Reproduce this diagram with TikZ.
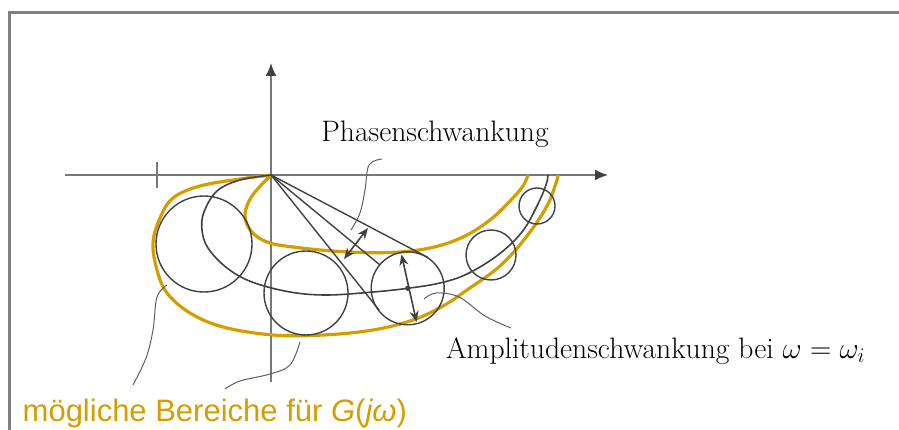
\RequirePackage{fix-cm}
\documentclass[tikz,border=0pt]{standalone}
\usepackage{fontspec}
\newfontfamily\labelsans{Liberation Sans}
\usetikzlibrary{arrows.meta}
\definecolor{gold}{RGB}{212,158,0}
\definecolor{axgray}{RGB}{120,120,120}
\definecolor{curvegray}{RGB}{65,65,65}
\definecolor{leadgray}{RGB}{95,95,95}
\tikzset{
  frameline/.style={draw={rgb,255:red,128;green,128;blue,128}, line width=3pt},
  axisline/.style={draw=axgray, line width=1.8pt},
  axisarrow/.style={axisline, -{Latex[length=13pt,width=11pt,fill=curvegray,color=curvegray]}},
  nyq/.style={draw=curvegray, line width=1.6pt},
  unc/.style={draw=curvegray, line width=1.4pt},
  ray/.style={draw=curvegray, line width=1.4pt},
  goldline/.style={draw=gold, line width=3.2pt, line join=round},
  leader/.style={draw=leadgray, line width=1pt},
  dblarrow/.style={draw=curvegray, line width=1.6pt, {Stealth[length=11pt,width=9pt]}-{Stealth[length=11pt,width=9pt]}},
  serif/.style={font=\fontsize{29.6}{35}\selectfont, inner sep=0pt},
  goldtext/.style={font=\labelsans\fontsize{31}{37}\selectfont, text=gold, inner sep=0pt}
}
\begin{document}
\begin{tikzpicture}[x=1pt,y=-1pt]
\useasboundingbox (0,0) rectangle (899,430);
% frame
\draw[frameline] (899,13) -- (9,13) -- (9,430);
% axes
\coordinate (O) at (271,175);
\coordinate (xl) at (65,175);
\coordinate (xr) at (608,175);
\coordinate (yb) at (271,382);
\coordinate (yt) at (271,63);
\draw[axisarrow] (xl) -- (xr);
\draw[axisarrow] (yb) -- (yt);
\coordinate (tk1) at (157,162);
\coordinate (tk2) at (157,188);
\draw[axisline] (tk1) -- (tk2);
% gold regions
\draw[goldline] plot[smooth, tension=0.6] coordinates {(271,175) (252,196) (245,215) (251,231) (267,242) (293,247) (340,251.5) (390,252.5) (430,248) (463,237) (490,220) (511,200) (523,186) (528,175)};
\draw[goldline] plot[smooth, tension=0.6] coordinates {(271,175) (240,179) (200,186) (173,198) (160,218) (153,243) (157,270) (167,293) (190,313) (223,327) (273,335) (323,335) (373,330) (413,320) (443,306) (467,290) (500,266) (527,236) (547,206) (556,183) (558,175)};
% nyquist curve
\draw[nyq] plot[smooth, tension=0.6] coordinates {(271,175) (240,180) (217,191) (204,212) (202,230) (208,248) (227,268) (252,282) (290,292) (327,295) (373,292) (407.7,288.3) (440,283) (467,274) (498,255) (522,232) (537,206) (546,185) (548,175)};
% uncertainty circles
\coordinate (c1) at (204,244);
\coordinate (c2) at (306,293);
\coordinate (c3) at (407.7,288.3);
\coordinate (c4) at (491,255);
\coordinate (c5) at (537,206);
\draw[unc] (c1) circle (48);
\draw[unc] (c2) circle (42);
\draw[unc] (c3) circle (36.5);
\draw[unc] (c4) circle (25);
\draw[unc] (c5) circle (18);
% rays from origin
\coordinate (r1) at (428,257.5);
\coordinate (r2) at (380,265);
\coordinate (r3) at (379,310);
\draw[ray] (O) -- (r1);
\draw[ray] (O) -- (r2);
\draw[ray] (O) -- (r3);
% phase arrow
\coordinate (pa) at (344,259);
\coordinate (pb) at (368,228);
\draw[dblarrow] (pa) -- (pb);
% amplitude arrow
\coordinate (aa) at (401.5,254.5);
\coordinate (ab) at (416.5,322);
\draw[dblarrow] (aa) -- (ab);
\fill[curvegray] (c3) circle (2.6);
% labels
\node[serif, anchor=base] (phase) at (435,142) {Phasenschwankung};
\node[serif, anchor=base west] (ampl) at (446,358) {Amplitudenschwankung bei $\omega=\omega_i$};
\node[goldtext, anchor=base west] (region) at (22.5,421.5) {mögliche Bereiche für {\itshape G}({\itshape jω})};
% leaders
\draw[leader] plot[smooth, tension=0.6] coordinates {(382,159) (369,165) (365,190) (360,213) (351,230)};
\draw[leader] plot[smooth, tension=0.6] coordinates {(424,299) (436,293) (459,297) (485,316) (511,328)};
\draw[leader] plot[smooth, tension=0.6] coordinates {(167,285) (157,297) (153,330) (146,358) (133,385)};
\draw[leader] plot[smooth, tension=0.6] coordinates {(300,342) (290,365) (270,374) (240,381) (225,389)};
\end{tikzpicture}
\end{document}
